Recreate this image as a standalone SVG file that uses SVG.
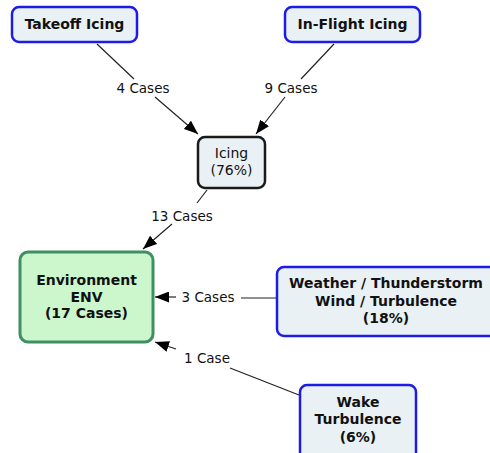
<svg xmlns="http://www.w3.org/2000/svg" width="490" height="453" viewBox="0 0 490 453">
<defs>
<marker id="ah" markerWidth="14" markerHeight="11" refX="14" refY="5.5" orient="auto" markerUnits="userSpaceOnUse" viewBox="0 0 14 11">
<path d="M0,0 L14,5.5 L0,11 z" fill="#000"/>
</marker>
<style>
text{font-family:"DejaVu Sans",Verdana,sans-serif;font-size:14px;fill:#111;text-anchor:middle}
.b{font-weight:bold}
.blue{fill:#eaf1f5;stroke:#1c1ce6;stroke-width:2.5}
.edge{stroke:#222;stroke-width:1.2;fill:none}
.lbl{font-size:13.5px}
</style>
</defs>
<rect width="490" height="453" fill="#fff"/>
<g id="connectors">
<line class="edge" x1="97" y1="44" x2="134" y2="79"/>
<line class="edge" x1="155" y1="97" x2="198" y2="134" marker-end="url(#ah)"/>
<text class="lbl" x="143" y="93">4 Cases</text>
<line class="edge" x1="334" y1="44" x2="301" y2="79"/>
<line class="edge" x1="285" y1="97" x2="256" y2="134" marker-end="url(#ah)"/>
<text class="lbl" x="291" y="93">9 Cases</text>
<line class="edge" x1="207" y1="190" x2="197" y2="203"/>
<line class="edge" x1="172" y1="224" x2="143" y2="249" marker-end="url(#ah)"/>
<text class="lbl" x="182" y="221">13 Cases</text>
<line class="edge" x1="276" y1="298" x2="241" y2="298"/>
<line class="edge" x1="176" y1="297" x2="155" y2="297" marker-end="url(#ah)"/>
<text class="lbl" x="208" y="302">3 Cases</text>
<line class="edge" x1="299" y1="395" x2="230" y2="368"/>
<line class="edge" x1="176" y1="349" x2="155" y2="342" marker-end="url(#ah)"/>
<text class="lbl" x="207" y="363">1 Case</text>
</g>
<g id="takeoff">
<rect class="blue" x="12" y="7" width="125" height="35" rx="7"/>
<text class="b" x="74.5" y="29">Takeoff Icing</text>
</g>
<g id="inflight">
<rect class="blue" x="285" y="7" width="135" height="35" rx="7"/>
<text class="b" x="352.5" y="29">In-Flight Icing</text>
</g>
<g id="icing">
<rect x="198" y="137" width="67" height="51" rx="7" fill="#eaf1f5" stroke="#1a1a1a" stroke-width="2.5"/>
<text x="231.5" y="158">Icing</text>
<text x="231.5" y="175">(76%)</text>
</g>
<g id="environment">
<rect x="20" y="252" width="133" height="90" rx="8" fill="#ccf7cc" stroke="#3e8f62" stroke-width="3"/>
<text class="b" x="86.5" y="285">Environment</text>
<text class="b" x="86.5" y="302">ENV</text>
<text class="b" x="86.5" y="318">(17 Cases)</text>
</g>
<g id="weather">
<rect class="blue" x="277" y="267" width="222" height="69" rx="7"/>
<text class="b" x="386" y="288">Weather / Thunderstorm</text>
<text class="b" x="386" y="306">Wind / Turbulence</text>
<text class="b" x="386" y="323">(18%)</text>
</g>
<g id="wake">
<rect class="blue" x="300" y="385" width="116" height="75" rx="7"/>
<text class="b" x="358" y="407">Wake</text>
<text class="b" x="358" y="424">Turbulence</text>
<text class="b" x="358" y="442">(6%)</text>
</g>
</svg>
